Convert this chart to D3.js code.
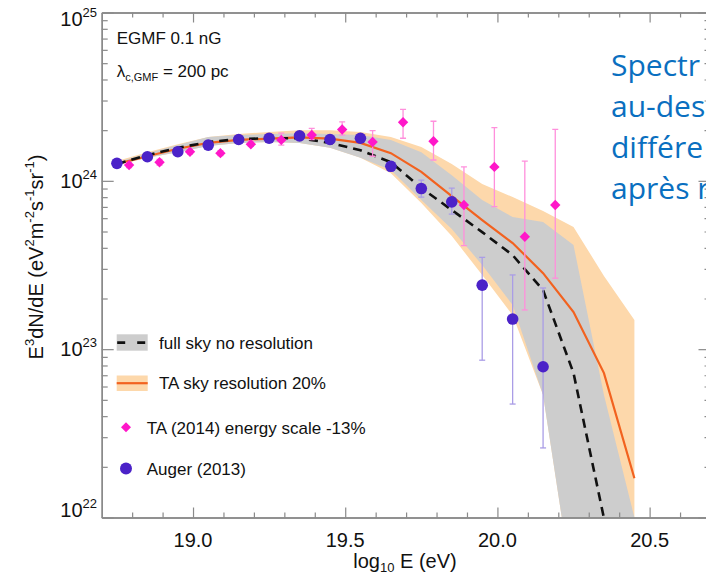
<!DOCTYPE html>
<html>
<head>
<meta charset="utf-8">
<script src="https://cdn.jsdelivr.net/npm/d3@7"></script>
<style>
  html, body { margin: 0; padding: 0; background: #fff; overflow: hidden; }
  svg { display: block; }
</style>
</head>
<body>
<script>
// ---- model energies (log10 E / eV) ----
const modelLogE = [18.75, 18.85, 18.95, 19.05, 19.15, 19.25, 19.35, 19.45, 19.55,
                   19.65, 19.75, 19.85, 19.95, 20.05, 20.15, 20.25, 20.35, 20.45];

// full sky, no resolution: median (dashed) and spread (grey band)
const fullSkyMedian = [1.26e24, 1.42e24, 1.57e24, 1.70e24, 1.77e24, 1.79e24, 1.79e24, 1.68e24, 1.52e24,
                       1.29e24, 9.06e23, 6.71e23, 4.96e23, 3.62e23, 2.24e23, 7.21e22, 9.9e21];
const fullSkyUpper  = [1.29e24, 1.46e24, 1.63e24, 1.82e24, 1.87e24, 1.90e24, 1.92e24, 1.90e24, 1.87e24,
                       1.75e24, 1.48e24, 1.08e24, 7.69e23, 6.10e23, 5.69e23, 4.16e23, 5.34e22, 1.0e22];
const fullSkyLower  = [1.24e24, 1.37e24, 1.48e24, 1.61e24, 1.68e24, 1.70e24, 1.68e24, 1.57e24, 1.37e24,
                       1.16e24, 7.69e23, 5.17e23, 3.16e23, 1.83e23, 5.34e22, 3.5e21, 1e21, 1e21];

// TA sky, 20% resolution: median (orange line) and spread (orange band)
const taSkyMedian = [1.26e24, 1.40e24, 1.55e24, 1.68e24, 1.75e24, 1.78e24, 1.81e24, 1.78e24, 1.68e24,
                     1.46e24, 1.13e24, 8.12e23, 5.85e23, 4.27e23, 2.83e23, 1.66e23, 7.21e22, 1.71e22];
const taSkyUpper  = [1.31e24, 1.48e24, 1.65e24, 1.82e24, 1.90e24, 1.95e24, 2.00e24, 2.00e24, 1.95e24,
                     1.82e24, 1.59e24, 1.26e24, 9.57e23, 8.01e23, 6.62e23, 5.32e23, 2.72e23, 1.49e23];
const taSkyLower  = [1.24e24, 1.37e24, 1.48e24, 1.61e24, 1.68e24, 1.70e24, 1.68e24, 1.57e24, 1.37e24,
                     1.11e24, 7.38e23, 4.70e23, 2.76e23, 1.59e23, 5.34e22, 3.5e21, 1e21, 1e21];

// TA (2014), energy scale -13%
const taLogE = [18.79, 18.89, 18.99, 19.09, 19.19, 19.29, 19.39, 19.49, 19.59,
                19.69, 19.79, 19.89, 19.99, 20.09, 20.19];
const taFlux = [1.24e24, 1.29e24, 1.49e24, 1.46e24, 1.65e24, 1.75e24, 1.87e24, 2.02e24, 1.70e24,
                2.23e24, 1.72e24, 7.18e23, 1.21e24, 4.65e23, 7.18e23];
const taLow  = [1.20e24, 1.24e24, 1.44e24, 1.41e24, 1.60e24, 1.63e24, 1.76e24, 1.87e24, 1.40e24,
                1.79e24, 1.33e24, 4.12e23, 7.02e23, 1.71e23, 2.64e23];
const taHigh = [1.28e24, 1.34e24, 1.54e24, 1.51e24, 1.72e24, 1.92e24, 2.05e24, 2.24e24, 1.99e24,
                2.66e24, 2.26e24, 1.21e24, 2.07e24, 1.31e24, 2.02e24];

// Auger (2013)
const augerLogE = [18.75, 18.85, 18.95, 19.05, 19.15, 19.25, 19.35, 19.45, 19.55,
                   19.65, 19.75, 19.85, 19.95, 20.05, 20.15];
const augerFlux = [1.27e24, 1.39e24, 1.49e24, 1.63e24, 1.76e24, 1.79e24, 1.85e24, 1.76e24, 1.79e24,
                   1.22e24, 9.0e23, 7.5e23, 2.40e23, 1.51e23, 7.86e22];
const augerLow  = [1.23e24, 1.35e24, 1.45e24, 1.59e24, 1.72e24, 1.74e24, 1.79e24, 1.69e24, 1.70e24,
                   1.14e24, 8.0e23, 6.35e23, 8.6e22, 4.72e22, 2.59e22];
const augerHigh = [1.31e24, 1.43e24, 1.53e24, 1.67e24, 1.80e24, 1.84e24, 1.91e24, 1.83e24, 1.88e24,
                   1.30e24, 1.01e24, 9.06e23, 3.51e23, 2.76e23, 2.31e23];

// ---- axis ticks ----
const xMajorTicks = [19.0, 19.5, 20.0, 20.5];
const xTickLabels = ["19.0", "19.5", "20.0", "20.5"];
const xMinorTicks = [18.8, 18.9, 19.1, 19.2, 19.3, 19.4, 19.6, 19.7, 19.8, 19.9,
                     20.1, 20.2, 20.3, 20.4, 20.6];
const yMajorTicks = [1e22, 1e23, 1e24, 1e25];
const yTickExponents = ["22", "23", "24", "25"];

const legendLabels = ["full sky no resolution", "TA sky resolution 20%",
                      "TA (2014) energy scale -13%", "Auger (2013)"];
const slideLines = ["Spectr", "au-des", "différe", "après r"];

(function draw() {
  const W = 706, H = 578;
  const pLeft = 101.7, pRight = 710.5, pTop = 12.5, pBottom = 517.5;
  const FONT = "'Liberation Sans', Arial, Helvetica, sans-serif";
  const AXIS = "#8a8a8a";

  const x = d3.scaleLinear().domain([18.7, 20.7]).range([pLeft, pRight]);
  const y = d3.scaleLog().domain([1e22, 1e25]).range([pBottom, pTop]);

  const svg = d3.select("body").append("svg").attr("width", W).attr("height", H);
  svg.append("defs").append("clipPath").attr("id", "plotArea")
    .append("rect").attr("x", pLeft).attr("y", pTop)
    .attr("width", pRight - pLeft).attr("height", pBottom - pTop);

  const plot = svg.append("g").attr("clip-path", "url(#plotArea)");
  const idx = d3.range(modelLogE.length);

  // bands
  const bandArea = (upper, lower) => d3.area()
    .x(i => x(modelLogE[i])).y0(i => y(lower[i])).y1(i => y(upper[i]));
  plot.append("path").attr("d", bandArea(taSkyUpper, taSkyLower)(idx)).attr("fill", "#fdd8ab");
  plot.append("path").attr("d", bandArea(fullSkyUpper, fullSkyLower)(idx)).attr("fill", "#cdcdcd");

  // median curves
  const curve = vals => d3.line().x(i => x(modelLogE[i])).y(i => y(vals[i]))(d3.range(vals.length));
  plot.append("path").attr("d", curve(taSkyMedian)).attr("fill", "none")
    .attr("stroke", "#f2621f").attr("stroke-width", 2.2);
  plot.append("path").attr("d", curve(fullSkyMedian)).attr("fill", "none")
    .attr("stroke", "#111").attr("stroke-width", 2.6).attr("stroke-dasharray", "9,6");

  // error bars
  function errorBars(xs, lo, hi, color) {
    const g = plot.append("g").attr("stroke", color).attr("stroke-width", 1.3).attr("fill", "none");
    xs.forEach((e, i) => {
      const cx = x(e), y0 = y(lo[i]), y1 = y(hi[i]);
      g.append("line").attr("x1", cx).attr("x2", cx).attr("y1", y0).attr("y2", y1);
      g.append("line").attr("x1", cx - 3).attr("x2", cx + 3).attr("y1", y0).attr("y2", y0);
      g.append("line").attr("x1", cx - 3).attr("x2", cx + 3).attr("y1", y1).attr("y2", y1);
    });
  }
  errorBars(augerLogE, augerLow, augerHigh, "#aa9de6");
  errorBars(taLogE, taLow, taHigh, "#ff8fdc");

  const PURPLE = "#4b22c8", MAGENTA = "#ff17c9";
  const diamond = r => `M0,${-r}L${r},0L0,${r}L${-r},0Z`;

  plot.append("g").selectAll("path").data(taLogE).join("path")
    .attr("d", diamond(5.2))
    .attr("transform", (e, i) => `translate(${x(e)},${y(taFlux[i])})`)
    .attr("fill", MAGENTA);
  plot.append("g").selectAll("circle").data(augerLogE).join("circle")
    .attr("cx", e => x(e)).attr("cy", (e, i) => y(augerFlux[i]))
    .attr("r", 5.8).attr("fill", PURPLE);

  // ---- axes ----
  const axes = svg.append("g");
  function styleAxis(g) {
    g.select(".domain").attr("stroke", AXIS).attr("stroke-width", 1.4);
    g.selectAll(".tick line").attr("stroke", AXIS).attr("stroke-width", 1.2);
    g.selectAll(".tick text").remove();
  }
  const xAxisSets = [
    [d3.axisBottom, pBottom, -10, xMajorTicks], [d3.axisBottom, pBottom, -5, xMinorTicks],
    [d3.axisTop, pTop, -10, xMajorTicks], [d3.axisTop, pTop, -5, xMinorTicks]
  ];
  xAxisSets.forEach(([fn, pos, size, vals]) => {
    axes.append("g").attr("transform", `translate(0,${pos})`)
      .call(fn(x).tickValues(vals).tickSize(size).tickSizeOuter(0).tickFormat(""))
      .call(styleAxis);
  });
  const yMinor = [];
  [1e22, 1e23, 1e24].forEach(d => { for (let k = 2; k <= 9; k++) yMinor.push(d * k); });
  const yAxisSets = [
    [d3.axisLeft, pLeft, -12, yMajorTicks], [d3.axisLeft, pLeft, -6, yMinor],
    [d3.axisRight, pRight, -12, yMajorTicks], [d3.axisRight, pRight, -6, yMinor]
  ];
  yAxisSets.forEach(([fn, pos, size, vals]) => {
    axes.append("g").attr("transform", `translate(${pos},0)`)
      .call(fn(y).tickValues(vals).tickSize(size).tickSizeOuter(0).tickFormat(""))
      .call(styleAxis);
  });

  // x tick labels
  svg.append("g").selectAll("text").data(xMajorTicks).join("text")
    .attr("x", d => x(d)).attr("y", pBottom + 29.5)
    .attr("text-anchor", "middle").attr("font-family", FONT).attr("font-size", 20)
    .attr("fill", "#111").text((d, i) => xTickLabels[i]);

  // y tick labels: 10 with exponent
  yMajorTicks.forEach((d, i) => {
    const cy = Math.min(Math.max(y(d), 19), 510);
    const t = svg.append("text").attr("x", 97).attr("y", cy + 7)
      .attr("text-anchor", "end").attr("font-family", FONT).attr("font-size", 20).attr("fill", "#111");
    t.append("tspan").text("10");
    t.append("tspan").attr("font-size", 13).attr("dy", -9).text(yTickExponents[i]);
  });

  // axis titles
  const xt = svg.append("text").attr("x", 405).attr("y", 568).attr("text-anchor", "middle")
    .attr("font-family", FONT).attr("font-size", 20).attr("fill", "#111");
  xt.append("tspan").text("log");
  xt.append("tspan").attr("font-size", 13).attr("dy", 4).text("10");
  xt.append("tspan").attr("dy", -4).text(" E (eV)");

  const yt = svg.append("text").attr("transform", "translate(43,257) rotate(-90)")
    .attr("text-anchor", "middle").attr("font-family", FONT).attr("font-size", 20).attr("fill", "#111");
  [["E", 0], ["3", 1], ["dN/dE (eV", 0], ["2", 1], ["m", 0], ["-2", 1],
   ["s", 0], ["-1", 1], ["sr", 0], ["-1", 1], [")", 0]].forEach(([s, sup], i, arr) => {
    const prevSup = i > 0 && arr[i - 1][1];
    const ts = yt.append("tspan").text(s);
    if (sup && !prevSup) ts.attr("font-size", 13).attr("dy", -9);
    else if (sup) ts.attr("font-size", 13);
    else if (prevSup) ts.attr("dy", 9);
  });

  // annotations
  svg.append("text").attr("x", 116.7).attr("y", 44.3).attr("font-family", FONT)
    .attr("font-size", 17).attr("fill", "#111").text("EGMF 0.1 nG");
  const lam = svg.append("text").attr("x", 116.7).attr("y", 76.7).attr("font-family", FONT)
    .attr("font-size", 17).attr("fill", "#111");
  lam.append("tspan").text("λ");
  lam.append("tspan").attr("font-size", 11).attr("dy", 4).text("c,GMF");
  lam.append("tspan").attr("dy", -4).text(" = 200 pc");

  // legend
  const lg = svg.append("g").attr("font-family", FONT).attr("font-size", 17).attr("fill", "#111");
  lg.append("rect").attr("x", 116.7).attr("y", 334.3).attr("width", 31).attr("height", 16.4).attr("fill", "#cdcdcd");
  lg.append("line").attr("x1", 117.2).attr("x2", 147).attr("y1", 342.6).attr("y2", 342.6)
    .attr("stroke", "#111").attr("stroke-width", 2.6).attr("stroke-dasharray", "8,12");
  lg.append("rect").attr("x", 116.7).attr("y", 375.5).attr("width", 31).attr("height", 15.5).attr("fill", "#fdd8ab");
  lg.append("line").attr("x1", 116.7).attr("x2", 147.7).attr("y1", 383.2).attr("y2", 383.2)
    .attr("stroke", "#f2621f").attr("stroke-width", 2.2);
  lg.append("path").attr("d", diamond(5)).attr("transform", "translate(126,427.3)").attr("fill", MAGENTA);
  lg.append("circle").attr("cx", 126).attr("cy", 468.5).attr("r", 6).attr("fill", PURPLE);
  const legendPos = [[159, 343], [159, 383], [146.7, 427.5], [146.7, 468.5]];
  legendLabels.forEach((s, i) => {
    lg.append("text").attr("x", legendPos[i][0]).attr("y", legendPos[i][1] + 6).text(s);
  });

  // slide text overlapping the right side
  const st = svg.append("g").attr("font-family", "'Open Sans', Lato, sans-serif")
    .attr("font-size", 30).attr("fill", "#0a6fc0");
  slideLines.forEach((s, i) => {
    st.append("text").attr("x", 611).attr("y", 76 + i * 41).text(s);
  });
})();
</script>
</body>
</html>
